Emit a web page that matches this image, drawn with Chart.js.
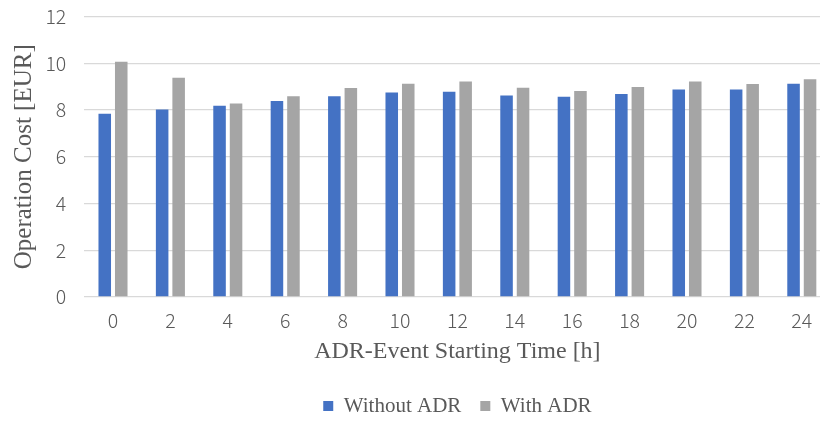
<!DOCTYPE html>
<html>
<head>
<meta charset="utf-8">
<script src="https://cdn.jsdelivr.net/npm/chart.js@4/dist/chart.umd.min.js"></script>
<style>
  html, body { margin: 0; padding: 0; background: #ffffff; overflow: hidden; }
  #wrap { width: 820px; height: 421px; overflow: hidden; }
  canvas { display: block; }
</style>
</head>
<body>
<div id="wrap"><canvas id="chart" width="840" height="421"></canvas></div>
<script>
// ADR-event start hour (category axis)
const startHours = ['0', '2', '4', '6', '8', '10', '12', '14', '16', '18', '20', '22', '24'];

// Operation cost in EUR for each start hour
const costWithoutADR = [7.84, 8.02, 8.18, 8.39, 8.59, 8.75, 8.78, 8.62, 8.57, 8.68, 8.88, 8.88, 9.12];
const costWithADR    = [10.06, 9.38, 8.28, 8.59, 8.94, 9.12, 9.22, 8.95, 8.81, 8.98, 9.22, 9.11, 9.32];

// Value axis ticks
const yTickMin = 0;
const yTickMax = 12;
const yTickStep = 2;

const tickFont = { family: "'Noto Sans CJK SC', Roboto, 'Noto Sans', sans-serif", size: 19.5, weight: '300' };
const serif = "'Liberation Serif', 'DejaVu Serif', serif";
const textGray = '#595959';

new Chart(document.getElementById('chart'), {
  type: 'bar',
  data: {
    labels: startHours,
    datasets: [
      {
        label: 'Without ADR',
        data: costWithoutADR,
        backgroundColor: '#4472C4',
        barPercentage: 0.76,
        categoryPercentage: 0.575
      },
      {
        label: 'With ADR',
        data: costWithADR,
        backgroundColor: '#A5A5A5',
        barPercentage: 0.76,
        categoryPercentage: 0.575
      }
    ]
  },
  options: {
    responsive: false,
    animation: false,
    devicePixelRatio: 1,
    layout: { padding: { left: 0, right: 9.5, top: 16.5, bottom: -5.5 } },
    plugins: {
      legend: {
        position: 'bottom',
        fullSize: false,
        labels: {
          boxWidth: 10,
          boxHeight: 10,
          padding: 19,
          color: textGray,
          font: { family: serif, size: 21 }
        }
      },
      tooltip: { enabled: false }
    },
    scales: {
      x: {
        grid: { display: false, drawTicks: false },
        border: { display: false },
        ticks: { color: textGray, font: tickFont, padding: 12.3, maxRotation: 0 },
        title: {
          display: true,
          text: 'ADR-Event Starting Time [h]',
          color: textGray,
          font: { family: serif, size: 24 },
          padding: { top: 0, bottom: 10.1 }
        },
        afterFit: (scale) => { scale.height = 79.5; }
      },
      y: {
        min: yTickMin,
        max: yTickMax,
        grid: { color: '#D9D9D9', lineWidth: 1.3, drawTicks: true, tickLength: 18, tickColor: 'rgba(0,0,0,0)' },
        border: { display: false },
        ticks: { stepSize: yTickStep, color: textGray, font: tickFont, padding: 0 },
        title: {
          display: true,
          text: 'Operation Cost [EUR]',
          color: textGray,
          font: { family: serif, size: 25 },
          padding: { top: 9, bottom: 0 }
        },
        afterFit: (scale) => { scale.width = 84.3; }
      }
    }
  }
});
</script>
</body>
</html>
